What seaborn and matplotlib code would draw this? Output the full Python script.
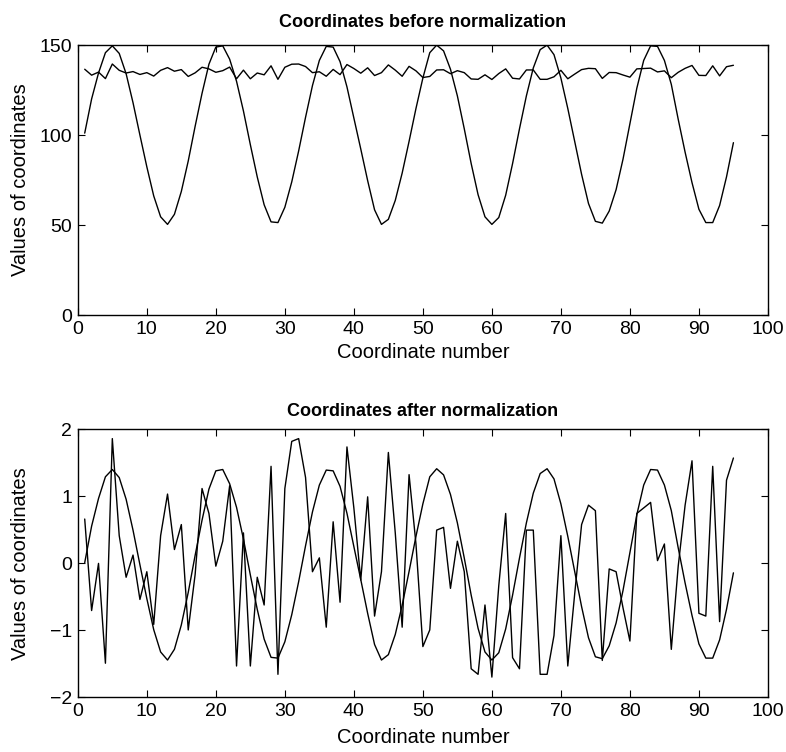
import numpy as np
import pandas as pd
import seaborn as sns
import matplotlib
matplotlib.use("Agg")
import matplotlib.pyplot as plt

# raw coordinate values
coord_number = list(range(1, 96))

wave_values = [
    101.1, 120.1, 134.5, 145.8, 149.6, 145.4, 134.1, 118.0, 100.0, 82.4,
    66.2, 54.6, 50.4, 56.0, 68.7, 85.6, 104.9, 123.2, 139.4, 148.9,
    149.6, 142.2, 129.9, 113.4, 94.7, 76.8, 61.3, 51.8, 51.4, 59.9,
    74.0, 91.2, 109.9, 127.5, 141.5, 149.3, 148.9, 140.8, 126.8, 109.5,
    92.3, 74.7, 58.5, 50.4, 53.2, 63.7, 78.9, 96.5, 114.8, 131.7,
    145.8, 150.0, 146.8, 136.6, 121.8, 103.5, 84.2, 66.9, 54.6, 50.4,
    54.2, 66.6, 84.2, 103.5, 121.8, 137.3, 147.5, 150.0, 144.7, 131.7,
    114.8, 96.5, 78.2, 62.0, 52.1, 51.1, 57.8, 69.7, 86.6, 106.3,
    126.0, 141.5, 149.6, 149.3, 141.5, 128.2, 108.8, 90.5, 73.6, 58.8,
    51.4, 51.4, 60.9, 76.8, 95.8,
]

noise_values = [
    136.6, 133.3, 135.0, 131.4, 139.5, 136.0, 134.5, 135.3, 133.7, 134.7,
    132.8, 136.0, 137.5, 135.5, 136.4, 132.6, 134.6, 137.7, 136.8, 134.9,
    135.8, 137.8, 131.3, 136.1, 131.3, 134.5, 133.5, 138.5, 131.0, 137.7,
    139.4, 139.5, 138.1, 134.7, 135.2, 132.7, 136.5, 133.6, 139.2, 137.0,
    134.4, 137.4, 133.1, 134.7, 139.0, 136.1, 132.7, 138.2, 135.7, 132.0,
    132.6, 136.2, 136.3, 134.1, 135.8, 134.7, 131.2, 131.0, 133.5, 130.9,
    134.2, 136.8, 131.6, 131.2, 136.2, 136.2, 131.0, 131.0, 132.4, 136.0,
    131.3, 133.9, 136.4, 137.1, 136.9, 131.5, 134.8, 134.7, 133.4, 132.2,
    136.8, 137.0, 137.2, 135.1, 135.7, 131.9, 134.9, 137.1, 138.7, 133.2,
    133.1, 138.5, 132.9, 138.0, 138.8,
]

x_ticks = list(range(0, 101, 10))
top_y_ticks = [0, 50, 100, 150]
bottom_y_ticks = [-2, -1, 0, 1, 2]


def zscore(v):
    v = np.asarray(v, dtype=float)
    return (v - v.mean()) / v.std(ddof=1)


df = pd.DataFrame({
    "n": coord_number,
    "wave": wave_values,
    "noise": noise_values,
})
df["wave_norm"] = zscore(df["wave"])
df["noise_norm"] = zscore(df["noise"])

sns.set_theme(style="ticks")
plt.rcParams["font.family"] = ["Liberation Sans", "DejaVu Sans"]
plt.rcParams["axes.linewidth"] = 1.0
plt.rcParams["xtick.direction"] = "in"
plt.rcParams["ytick.direction"] = "in"
plt.rcParams["xtick.top"] = True
plt.rcParams["ytick.right"] = True
plt.rcParams["text.color"] = "black"
plt.rcParams["axes.labelcolor"] = "black"
plt.rcParams["xtick.color"] = "black"
plt.rcParams["ytick.color"] = "black"

fig = plt.figure(figsize=(7.86, 7.52), dpi=100)
ax1 = fig.add_axes([0.099, 0.581, 0.878, 0.359])
ax2 = fig.add_axes([0.099, 0.073, 0.878, 0.356])

panels = [
    (ax1, "wave", "noise", top_y_ticks, "Coordinates before normalization", 13, 4),
    (ax2, "wave_norm", "noise_norm", bottom_y_ticks, "Coordinates after normalization", 10, 6),
]

for ax, c1, c2, yt, title, tpad, lpad in panels:
    sns.lineplot(data=df, x="n", y=c1, ax=ax, color="black", linewidth=1.0)
    sns.lineplot(data=df, x="n", y=c2, ax=ax, color="black", linewidth=1.0)
    ax.set_xlim(0, 100)
    ax.set_ylim(yt[0], yt[-1])
    ax.set_xticks(x_ticks)
    ax.set_yticks(yt)
    ax.tick_params(labelsize=14, length=5, width=0.8, color="black", pad=4)
    ax.set_xlabel("Coordinate number", fontsize=14.5, labelpad=lpad)
    ax.set_ylabel("Values of coordinates", fontsize=14.5)
    ax.yaxis.set_label_coords(-0.069, 0.5)
    ax.set_title(title, fontsize=13, fontweight="bold", pad=tpad)
    for s in ax.spines.values():
        s.set_color("black")

fig.savefig("out.png", dpi=100, facecolor="white")
